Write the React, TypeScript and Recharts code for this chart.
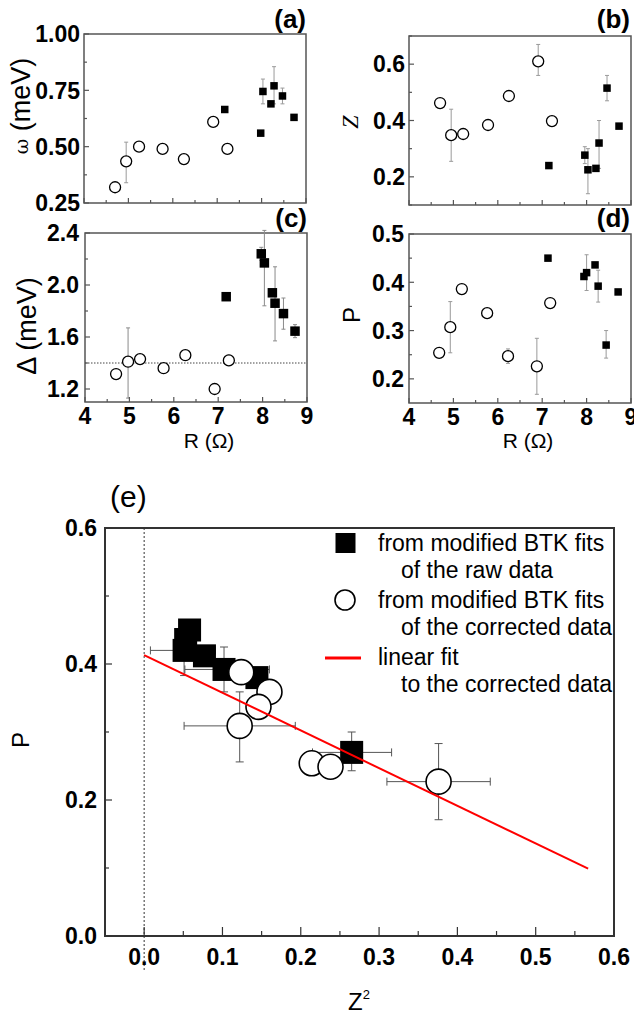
import React from "react";
import {
  ErrorBar,
  ReferenceArea,
  ReferenceLine,
  Scatter,
  ScatterChart,
  XAxis,
  YAxis,
} from "recharts";

type Pt = { x: number; y: number; ex?: number | number[]; ey?: number | number[] };

const FONT = "'Liberation Sans', Arial, Helvetica, sans-serif";

// R axis shared by panels (a)-(d)
const rTicks = [4, 4.5, 5, 5.5, 6, 6.5, 7, 7.5, 8, 8.5, 9];
const rLabels = [4, 5, 6, 7, 8, 9];

// (a) omega (meV) vs R
const omegaTicks = [0.25, 0.375, 0.5, 0.625, 0.75, 0.875, 1.0];
const omegaLabels = [0.25, 0.5, 0.75, 1.0];
const omegaCorrected: Pt[] = [
  { x: 4.7, y: 0.32, ey: 0.02 },
  { x: 4.95, y: 0.435, ey: [0.095, 0.085] },
  { x: 5.24, y: 0.5 },
  { x: 5.77, y: 0.49 },
  { x: 6.25, y: 0.445, ey: 0.015 },
  { x: 6.91, y: 0.61, ey: 0.02 },
  { x: 7.23, y: 0.49, ey: 0.02 },
];
const omegaRaw: Pt[] = [
  { x: 7.17, y: 0.665 },
  { x: 7.98, y: 0.56 },
  { x: 8.03, y: 0.745, ey: 0.055 },
  { x: 8.21, y: 0.69 },
  { x: 8.28, y: 0.77, ey: [0.08, 0.085] },
  { x: 8.47, y: 0.725, ey: 0.035 },
  { x: 8.73, y: 0.63 },
];

// (b) Z vs R
const zTicks = [0.1, 0.2, 0.3, 0.4, 0.5, 0.6, 0.7];
const zLabels = [0.2, 0.4, 0.6];
const zCorrected: Pt[] = [
  { x: 4.7, y: 0.462 },
  { x: 4.95, y: 0.348, ey: [0.093, 0.092] },
  { x: 5.22, y: 0.352 },
  { x: 5.78, y: 0.384 },
  { x: 6.25, y: 0.487 },
  { x: 6.91, y: 0.61, ey: [0.05, 0.06] },
  { x: 7.22, y: 0.398, ey: 0.01 },
];
const zRaw: Pt[] = [
  { x: 7.15, y: 0.24 },
  { x: 7.96, y: 0.277, ey: 0.03 },
  { x: 8.03, y: 0.225, ey: [0.085, 0.075] },
  { x: 8.21, y: 0.23 },
  { x: 8.28, y: 0.32, ey: [0.09, 0.08] },
  { x: 8.46, y: 0.515, ey: 0.045 },
  { x: 8.73, y: 0.38 },
];

// (c) Delta (meV) vs R
const gapTicks = [1.2, 1.4, 1.6, 1.8, 2.0, 2.2, 2.4];
const gapLabels = [1.2, 1.6, 2.0, 2.4];
const gapLevel = 1.4;
const gapCorrected: Pt[] = [
  { x: 4.7, y: 1.315, ey: 0.03 },
  { x: 4.97, y: 1.41, ey: [0.28, 0.26] },
  { x: 5.24, y: 1.43, ey: 0.02 },
  { x: 5.77, y: 1.36, ey: 0.02 },
  { x: 6.26, y: 1.46, ey: 0.03 },
  { x: 6.92, y: 1.2, ey: 0.03 },
  { x: 7.24, y: 1.42, ey: 0.04 },
];
const gapRaw: Pt[] = [
  { x: 7.18, y: 1.91 },
  { x: 7.97, y: 2.24, ey: 0.05 },
  { x: 8.04, y: 2.17, ey: [0.33, 0.25] },
  { x: 8.22, y: 1.94 },
  { x: 8.28, y: 1.86, ey: [0.29, 0.28] },
  { x: 8.47, y: 1.78, ey: 0.12 },
  { x: 8.73, y: 1.645, ey: 0.05 },
];

// (d) P vs R
const polTicks = [0.2, 0.25, 0.3, 0.35, 0.4, 0.45, 0.5];
const polLabels = [0.2, 0.3, 0.4, 0.5];
const polCorrected: Pt[] = [
  { x: 4.68, y: 0.254 },
  { x: 4.93, y: 0.307, ey: 0.053 },
  { x: 5.19, y: 0.386 },
  { x: 5.76, y: 0.336 },
  { x: 6.23, y: 0.247, ey: 0.015 },
  { x: 6.88, y: 0.226, ey: 0.058 },
  { x: 7.18, y: 0.357 },
];
const polRaw: Pt[] = [
  { x: 7.13, y: 0.45 },
  { x: 7.94, y: 0.412 },
  { x: 8.0, y: 0.42, ey: 0.037 },
  { x: 8.19, y: 0.436 },
  { x: 8.26, y: 0.392, ey: 0.033 },
  { x: 8.44, y: 0.27, ey: [0.027, 0.03] },
  { x: 8.71, y: 0.38 },
];

// (e) P vs Z^2
const z2Ticks = [-0.05, 0, 0.05, 0.1, 0.15, 0.2, 0.25, 0.3, 0.35, 0.4, 0.45, 0.5, 0.55, 0.6];
const z2Labels = [0, 0.1, 0.2, 0.3, 0.4, 0.5, 0.6];
const pTicks = [0, 0.1, 0.2, 0.3, 0.4, 0.5, 0.6];
const pLabels = [0, 0.2, 0.4, 0.6];
const pzRaw: Pt[] = [
  { x: 0.058, y: 0.45 },
  { x: 0.053, y: 0.436 },
  { x: 0.051, y: 0.42, ex: [0.043, 0.04], ey: 0.037 },
  { x: 0.077, y: 0.412 },
  { x: 0.102, y: 0.392, ex: [0.05, 0.058], ey: 0.033 },
  { x: 0.144, y: 0.38 },
  { x: 0.265, y: 0.27, ex: [0.05, 0.051], ey: [0.027, 0.03] },
];
const pzCorrected: Pt[] = [
  { x: 0.124, y: 0.388, ey: 0.015 },
  { x: 0.16, y: 0.359, ex: 0.01, ey: 0.015 },
  { x: 0.146, y: 0.337, ey: 0.01 },
  { x: 0.122, y: 0.309, ex: 0.071, ey: [0.053, 0.05] },
  { x: 0.214, y: 0.254, ex: 0.01, ey: 0.015 },
  { x: 0.238, y: 0.249 },
  { x: 0.376, y: 0.227, ex: 0.066, ey: 0.056 },
];
const fitLine: Pt[] = [
  { x: 0, y: 0.413 },
  { x: 0.567, y: 0.099 },
];

const isIn = (v: number, list: number[]) => list.some((l) => Math.abs(l - v) < 1e-6);

type TickOpts = {
  labels: number[];
  show: boolean;
  gap: number;
  major: number;
  minor: number;
  color: string;
  size: number;
  digits: number;
};

const makeXTick = (o: TickOpts) => (p: any) => {
  const { x, y, payload } = p;
  const big = isIn(payload.value, o.labels);
  const base = y - o.gap;
  return (
    <g>
      <line x1={x} x2={x} y1={base} y2={base - (big ? o.major : o.minor)} stroke={o.color} strokeWidth={1.2} />
      {o.show && big && (
        <text x={x} y={y} dy="0.72em" textAnchor="middle" fontFamily={FONT} fontWeight="bold" fontSize={o.size} fill="#000">
          {Math.abs(payload.value).toFixed(o.digits)}
        </text>
      )}
    </g>
  );
};

const makeYTick = (o: TickOpts) => (p: any) => {
  const { x, y, payload } = p;
  const big = isIn(payload.value, o.labels);
  const base = x + o.gap;
  return (
    <g>
      <line x1={base} x2={base + (big ? o.major : o.minor)} y1={y} y2={y} stroke={o.color} strokeWidth={1.2} />
      {o.show && big && (
        <text x={x} y={y} dy="0.36em" textAnchor="end" fontFamily={FONT} fontWeight="bold" fontSize={o.size} fill="#000">
          {payload.value.toFixed(o.digits)}
        </text>
      )}
    </g>
  );
};

const openCircle = (r: number, sw: number) => (p: any) => (
  <circle cx={p.cx} cy={p.cy} r={r} fill="#fff" stroke="#000" strokeWidth={sw} />
);
const filledSquare = (s: number) => (p: any) => (
  <rect x={p.cx - s / 2} y={p.cy - s / 2} width={s} height={s} fill="#000" />
);
const noMark = () => <g />;

type Box = { l: number; t: number; r: number; b: number };

type PanelProps = {
  box: Box;
  pad: Box;
  xDomain: [number, number];
  xTicks: number[];
  xOpts: TickOpts;
  yDomain: [number, number];
  yTicks: number[];
  yOpts: TickOpts;
  series: { data: Pt[]; shape: any }[];
  errColor: string;
  errCap: number;
  frameColor: string;
  frameWidth: number;
  under?: React.ReactNode;
  over?: React.ReactNode;
};

const Panel = ({
  box, pad, xDomain, xTicks, xOpts, yDomain, yTicks, yOpts,
  series, errColor, errCap, frameColor, frameWidth, under, over,
}: PanelProps) => {
  const w = pad.l + (box.r - box.l) + pad.r;
  const h = pad.t + (box.b - box.t) + pad.b;
  return (
    <div style={{ position: "absolute", left: box.l - pad.l, top: box.t - pad.t }}>
      <ScatterChart width={w} height={h} margin={{ top: pad.t, right: pad.r, left: 0, bottom: 0 }}>
        <XAxis
          type="number"
          dataKey="x"
          domain={xDomain}
          ticks={xTicks}
          interval={0}
          allowDataOverflow
          axisLine={false}
          tickLine={false}
          tickSize={0}
          tickMargin={xOpts.gap}
          height={pad.b}
          tick={makeXTick(xOpts)}
        />
        <YAxis
          type="number"
          dataKey="y"
          domain={yDomain}
          ticks={yTicks}
          interval={0}
          allowDataOverflow
          axisLine={false}
          tickLine={false}
          tickSize={0}
          tickMargin={yOpts.gap}
          width={pad.l}
          tick={makeYTick(yOpts)}
        />
        {under}
        {series.map((s, i) => (
          <Scatter key={`s${i}`} data={s.data} shape={s.shape} isAnimationActive={false} />
        ))}
        {series.map((s, i) => (
          <Scatter key={`e${i}`} data={s.data} shape={noMark} isAnimationActive={false}>
            <ErrorBar dataKey="ey" direction="y" width={errCap} stroke={errColor} strokeWidth={1} />
            <ErrorBar dataKey="ex" direction="x" width={errCap} stroke={errColor} strokeWidth={1} />
          </Scatter>
        ))}
        {over}
        <ReferenceArea
          x1={xDomain[0]}
          x2={xDomain[1]}
          y1={yDomain[0]}
          y2={yDomain[1]}
          fill="none"
          fillOpacity={0}
          stroke={frameColor}
          strokeWidth={frameWidth}
          ifOverflow="visible"
        />
      </ScatterChart>
    </div>
  );
};

const smallTick = (labels: number[], show: boolean, gap: number, digits: number): TickOpts => ({
  labels, show, gap, major: 5, minor: 3, color: "#555", size: 23, digits,
});

const circleSm = openCircle(5.5, 1.3);

export default function App() {
  return (
    <div style={{ position: "absolute", left: 0, top: 0, width: 634, height: 1017, background: "#fff" }}>
      {/* (a) */}
      <Panel
        box={{ l: 84, t: 34, r: 306, b: 203 }}
        pad={{ l: 75, t: 14, r: 8, b: 12 }}
        xDomain={[4, 9]}
        xTicks={rTicks}
        xOpts={smallTick(rLabels, false, 6, 0)}
        yDomain={[0.25, 1.0]}
        yTicks={omegaTicks}
        yOpts={smallTick(omegaLabels, true, 4, 2)}
        series={[
          { data: omegaCorrected, shape: circleSm },
          { data: omegaRaw, shape: filledSquare(7.5) },
        ]}
        errColor="#9a9a9a"
        errCap={2}
        frameColor="#555"
        frameWidth={1.5}
      />
      {/* (b) */}
      <Panel
        box={{ l: 409, t: 36, r: 631, b: 205 }}
        pad={{ l: 45, t: 14, r: 3, b: 12 }}
        xDomain={[4, 9]}
        xTicks={rTicks}
        xOpts={smallTick(rLabels, false, 6, 0)}
        yDomain={[0.1, 0.7]}
        yTicks={zTicks}
        yOpts={smallTick(zLabels, true, 4, 1)}
        series={[
          { data: zCorrected, shape: circleSm },
          { data: zRaw, shape: filledSquare(7.5) },
        ]}
        errColor="#9a9a9a"
        errCap={2}
        frameColor="#555"
        frameWidth={1.5}
      />
      {/* (c) */}
      <Panel
        box={{ l: 85, t: 233, r: 307, b: 402 }}
        pad={{ l: 75, t: 14, r: 8, b: 26 }}
        xDomain={[4, 9]}
        xTicks={rTicks}
        xOpts={smallTick(rLabels, true, 5, 0)}
        yDomain={[1.1, 2.4]}
        yTicks={gapTicks}
        yOpts={smallTick(gapLabels, true, 6, 1)}
        series={[
          { data: gapCorrected, shape: circleSm },
          { data: gapRaw, shape: filledSquare(9.5) },
        ]}
        errColor="#8a8a8a"
        errCap={2}
        frameColor="#555"
        frameWidth={1.5}
        under={<ReferenceLine y={gapLevel} stroke="#444" strokeDasharray="1.5 1.5" strokeWidth={1} />}
      />
      {/* (d) */}
      <Panel
        box={{ l: 409, t: 234, r: 631, b: 403 }}
        pad={{ l: 45, t: 14, r: 3, b: 26 }}
        xDomain={[4, 9]}
        xTicks={rTicks}
        xOpts={smallTick(rLabels, true, 5, 0)}
        yDomain={[0.15, 0.5]}
        yTicks={polTicks}
        yOpts={smallTick(polLabels, true, 5, 1)}
        series={[
          { data: polCorrected, shape: circleSm },
          { data: polRaw, shape: filledSquare(7.5) },
        ]}
        errColor="#9a9a9a"
        errCap={2}
        frameColor="#555"
        frameWidth={1.5}
      />
      {/* (e) */}
      <Panel
        box={{ l: 105, t: 528, r: 614, b: 936 }}
        pad={{ l: 60, t: 12, r: 18, b: 50 }}
        xDomain={[-0.05, 0.6]}
        xTicks={z2Ticks}
        xOpts={{ labels: z2Labels, show: true, gap: 12, major: 9, minor: 5, color: "#333", size: 23, digits: 1 }}
        yDomain={[0, 0.6]}
        yTicks={pTicks}
        yOpts={{ labels: pLabels, show: true, gap: 8, major: 7, minor: 4, color: "#333", size: 23, digits: 1 }}
        series={[
          { data: pzRaw, shape: filledSquare(23) },
          { data: pzCorrected, shape: openCircle(12.5, 1.6) },
        ]}
        errColor="#555"
        errCap={4}
        frameColor="#333"
        frameWidth={2}
        under={
          <ReferenceLine
            segment={[{ x: 0, y: -0.05 }, { x: 0, y: 0.6 }]}
            ifOverflow="visible"
            stroke="#333"
            strokeDasharray="2 2"
            strokeWidth={1}
          />
        }
        over={
          <Scatter
            data={fitLine}
            shape={noMark}
            line={{ stroke: "#f00", strokeWidth: 2 }}
            isAnimationActive={false}
          />
        }
      />

      <svg
        width={634}
        height={1017}
        style={{ position: "absolute", left: 0, top: 0, pointerEvents: "none" }}
        fontFamily={FONT}
      >
        <text x={306} y={28} textAnchor="end" fontWeight="bold" fontSize={26}>(a)</text>
        <text x={630} y={28} textAnchor="end" fontWeight="bold" fontSize={26}>(b)</text>
        <text x={307} y={227} textAnchor="end" fontWeight="bold" fontSize={26}>(c)</text>
        <text x={630} y={227} textAnchor="end" fontWeight="bold" fontSize={26}>(d)</text>

        <text transform="translate(21,106) rotate(-90)" textAnchor="middle" dominantBaseline="central" fontSize={27}>
          <tspan fontFamily="'DejaVu Serif', serif" fontSize={19}>ω</tspan> (meV)
        </text>
        <text
          transform="translate(350,122) rotate(-90)"
          textAnchor="middle"
          dominantBaseline="central"
          fontFamily="'Liberation Serif', 'Times New Roman', serif"
          fontStyle="italic"
          fontSize={24}
        >
          Z
        </text>
        <text transform="translate(27,326) rotate(-90)" textAnchor="middle" dominantBaseline="central" fontSize={27}>
          Δ (meV)
        </text>
        <text transform="translate(351,315) rotate(-90)" textAnchor="middle" dominantBaseline="central" fontSize={24}>
          P
        </text>
        <text x={209} y={448} textAnchor="middle" fontSize={21}>R (Ω)</text>
        <text x={528} y={448} textAnchor="middle" fontSize={21}>R (Ω)</text>

        <text x={110} y={507} fontSize={30}>(e)</text>
        <text transform="translate(20,740) rotate(-90)" textAnchor="middle" dominantBaseline="central" fontSize={24}>
          P
        </text>
        <text x={348} y={1010} fontSize={24}>
          Z<tspan fontSize={13} dy={-11}>2</tspan>
        </text>

        {/* legend */}
        <rect x={335.5} y={533} width={20} height={20} fill="#000" />
        <text x={378} y={551} fontSize={23}>from modified BTK fits</text>
        <text x={401} y={578} fontSize={23}>of the raw data</text>
        <circle cx={345} cy={600} r={10} fill="#fff" stroke="#000" strokeWidth={1.6} />
        <text x={378} y={608} fontSize={23}>from modified BTK fits</text>
        <text x={401} y={635} fontSize={23}>of the corrected data</text>
        <line x1={325} x2={361} y1={658} y2={658} stroke="#f00" strokeWidth={3} />
        <text x={378} y={665} fontSize={23}>linear fit</text>
        <text x={401} y={692} fontSize={23}>to the corrected data</text>
      </svg>
    </div>
  );
}
